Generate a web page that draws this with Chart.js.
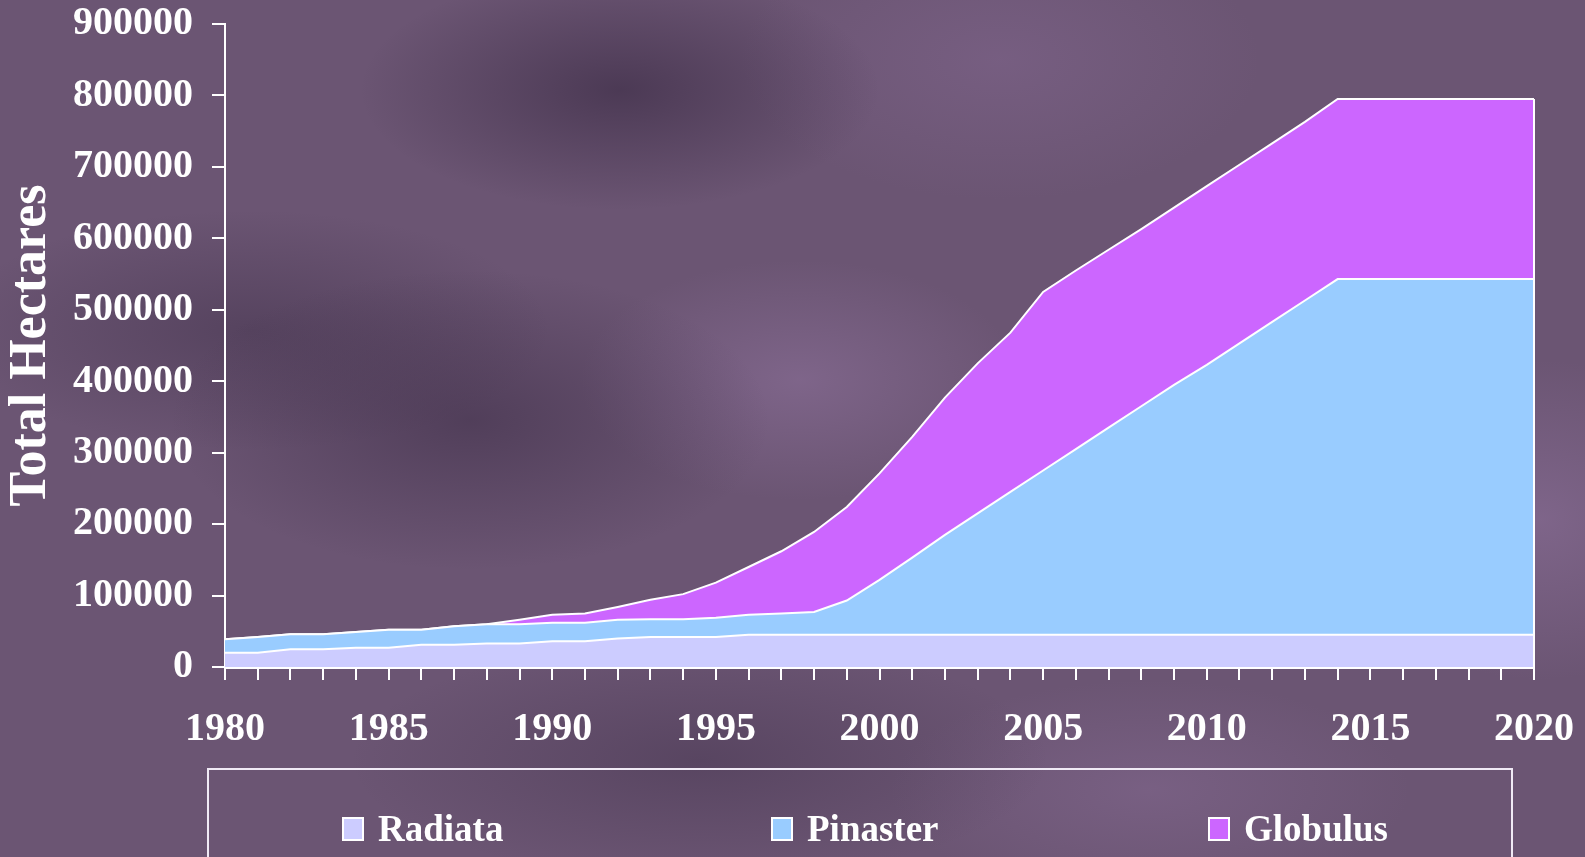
<!DOCTYPE html>
<html>
<head>
<meta charset="utf-8">
<script src="https://cdn.jsdelivr.net/npm/chart.js@4.4.1/dist/chart.umd.min.js"></script>
<style>
  html, body { margin: 0; padding: 0; width: 1585px; height: 857px; overflow: hidden; }
  body {
    position: relative;
    background-color: #6b5573;
    background-image:
      radial-gradient(ellipse 260px 120px at 620px 90px, rgba(50,35,60,0.55), rgba(50,35,60,0)),
      radial-gradient(ellipse 300px 150px at 470px 420px, rgba(55,40,65,0.5), rgba(55,40,65,0)),
      radial-gradient(ellipse 220px 120px at 800px 380px, rgba(150,120,165,0.45), rgba(150,120,165,0)),
      radial-gradient(ellipse 260px 140px at 1000px 60px, rgba(140,110,155,0.35), rgba(140,110,155,0)),
      radial-gradient(ellipse 200px 160px at 1540px 520px, rgba(150,120,165,0.45), rgba(150,120,165,0)),
      radial-gradient(ellipse 300px 120px at 250px 330px, rgba(60,45,70,0.45), rgba(60,45,70,0)),
      radial-gradient(ellipse 350px 120px at 700px 760px, rgba(60,45,70,0.4), rgba(60,45,70,0)),
      radial-gradient(ellipse 260px 110px at 1150px 790px, rgba(145,115,160,0.35), rgba(145,115,160,0));
    font-family: "Liberation Serif", "Times New Roman", serif;
  }
  #myChart { position: absolute; left: 0; top: 0; }
  .legend-box {
    position: absolute; left: 207px; top: 768px; width: 1306px; height: 140px;
    border: 2px solid #f0eaf5; box-sizing: border-box;
  }
  .item {
    position: absolute; top: 808px; display: flex; align-items: center;
    color: #ffffff; font-weight: bold; font-size: 37px; line-height: 42px;
  }
  .item span.sw {
    display: inline-block; width: 18px; height: 20px; border: 2px solid #ffffff;
    margin-right: 14px;
  }
</style>
</head>
<body>
<canvas id="myChart" width="1585" height="857"></canvas>
<div class="legend-box"></div>
<div id="legend"></div>
<script>
// Dados (hectares por ano)
var years = [];
for (var y = 1980; y <= 2020; y++) years.push(String(y));

var radiata = [20000, 20000, 25000, 25000, 27000, 27000, 31000, 31000, 33000, 33000,
  36000, 36000, 40000, 42000, 42000, 42000, 45000, 45000, 45000, 45000,
  45000, 45000, 45000, 45000, 45000, 45000, 45000, 45000, 45000, 45000,
  45000, 45000, 45000, 45000, 45000, 45000, 45000, 45000, 45000, 45000, 45000];

var pinaster = [19000, 22000, 21000, 21000, 22000, 25000, 21000, 26000, 27000, 27000,
  26000, 26000, 26000, 25000, 25000, 27000, 28000, 30000, 32000, 48000,
  77000, 108000, 140000, 170000, 200000, 230000, 260000, 290000, 320000, 350000,
  378000, 408000, 438000, 468000, 498000, 498000, 498000, 498000, 498000, 498000, 498000];

var globulus = [0, 0, 0, 0, 0, 0, 0, 0, 0, 6000,
  11000, 13000, 18000, 27000, 35000, 49000, 67000, 87000, 112000, 131000,
  149000, 169000, 192000, 210000, 223000, 250000, 250000, 249000, 248000, 248000,
  250000, 250000, 250000, 250000, 252000, 252000, 252000, 252000, 252000, 252000, 252000];

var seriesNames = ['Radiata', 'Pinaster', 'Globulus'];
var seriesColors = ['#ccccff', '#99ccff', '#cc66ff'];
var yTicks = [0, 100000, 200000, 300000, 400000, 500000, 600000, 700000, 800000, 900000];

var fontFamily = '"Liberation Serif", "Times New Roman", serif';

// Borda vertical direita (fecha as áreas em 2020)
var rightEdge = {
  id: 'rightEdge',
  afterDatasetsDraw: function (chart) {
    var last = years.length - 1;
    var total = radiata[last] + pinaster[last] + globulus[last];
    var x = chart.scales.x.getPixelForValue(last);
    var ctx = chart.ctx;
    ctx.save();
    ctx.strokeStyle = '#ffffff';
    ctx.lineWidth = 2;
    ctx.beginPath();
    ctx.moveTo(x, chart.scales.y.getPixelForValue(0));
    ctx.lineTo(x, chart.scales.y.getPixelForValue(total));
    ctx.stroke();
    ctx.restore();
  }
};

var config = {
  type: 'line',
  data: {
    labels: years,
    datasets: [
      { label: seriesNames[0], data: radiata, backgroundColor: seriesColors[0], fill: 'origin' },
      { label: seriesNames[1], data: pinaster, backgroundColor: seriesColors[1], fill: '-1' },
      { label: seriesNames[2], data: globulus, backgroundColor: seriesColors[2], fill: '-1' }
    ].map(function (d) {
      d.borderColor = '#ffffff';
      d.borderWidth = 2;
      d.pointRadius = 0;
      d.tension = 0;
      return d;
    })
  },
  options: {
    responsive: false,
    animation: false,
    layout: { padding: { top: 24, right: 51, left: 0, bottom: 0 } },
    plugins: { legend: { display: false }, tooltip: { enabled: false } },
    scales: {
      x: {
        offset: false,
        grid: { display: true, drawOnChartArea: false, drawTicks: true, tickLength: 13, color: '#ffffff', lineWidth: 2 },
        border: { display: true, color: '#ffffff', width: 3 },
        ticks: {
          autoSkip: false, maxRotation: 0, padding: 26, color: '#ffffff',
          font: { family: fontFamily, size: 40, weight: 'bold' },
          callback: function (v, i) { return (1980 + i) % 5 === 0 ? years[i] : ''; }
        },
        afterFit: function (scale) {
          scale.height = 190;
          scale.paddingLeft = 0;
          scale.paddingRight = 0;
        }
      },
      y: {
        stacked: true,
        min: 0, max: 900000,
        afterBuildTicks: function (scale) { scale.ticks = yTicks.map(function (v) { return { value: v }; }); },
        grid: { display: true, drawOnChartArea: false, drawTicks: true, tickLength: 13, color: '#ffffff', lineWidth: 2 },
        border: { display: true, color: '#ffffff', width: 2 },
        ticks: {
          padding: 19, color: '#ffffff',
          font: { family: fontFamily, size: 40, weight: 'bold' },
          callback: function (v) { return String(v); }
        },
        title: {
          display: true, text: 'Total Hectares', color: '#ffffff',
          font: { family: fontFamily, size: 52, weight: 'bold' },
          padding: { top: 0, bottom: 0 }
        },
        afterFit: function (scale) {
          scale.width = 225;
          scale.paddingTop = 0;
          scale.paddingBottom = 0;
        }
      }
    }
  },
  plugins: [rightEdge]
};

var ctx = document.getElementById('myChart').getContext('2d');
new Chart(ctx, config);

// Legenda em HTML
var legendLeft = [342, 771, 1208];
var legend = document.getElementById('legend');
seriesNames.forEach(function (name, i) {
  var item = document.createElement('div');
  item.className = 'item';
  item.style.left = legendLeft[i] + 'px';
  var sw = document.createElement('span');
  sw.className = 'sw';
  sw.style.background = seriesColors[i];
  item.appendChild(sw);
  item.appendChild(document.createTextNode(name));
  legend.appendChild(item);
});
</script>
</body>
</html>
